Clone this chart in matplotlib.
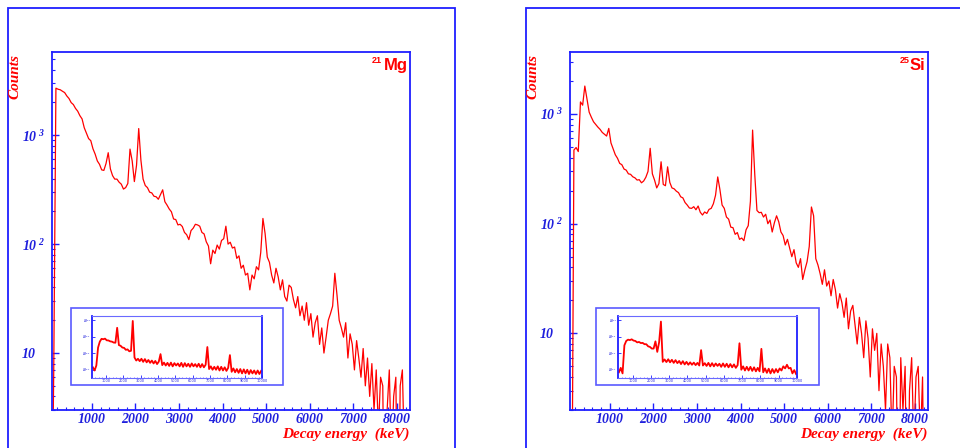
import numpy as np
import matplotlib.pyplot as plt
from matplotlib.patches import Rectangle
from matplotlib.ticker import MultipleLocator, LogLocator, NullFormatter
import matplotlib.transforms as mtrans

plt.rcParams['mathtext.fontset'] = 'custom'
plt.rcParams['mathtext.rm'] = 'Liberation Serif:bold:italic'
plt.rcParams['mathtext.it'] = 'Liberation Serif:bold:italic'
plt.rcParams['mathtext.bf'] = 'Liberation Serif:bold:italic'

# main spectra, 50 keV bins from 50 to 8250 keV
edges = np.arange(50, 8300, 50)

mg21 = [0, 7, 2700, 2640, 2610, 2530, 2460, 2290, 2170, 1990,
        1910, 1760, 1660, 1510, 1410, 1170, 1040, 930, 890, 750,
        670, 580, 540, 480, 475, 550, 690, 490, 425, 395,
        395, 370, 355, 320, 330, 360, 745, 580, 375, 530,
        1150, 590, 395, 345, 330, 300, 295, 275, 272, 258,
        285, 315, 245, 228, 210, 198, 170, 168, 150, 152,
        145, 128, 122, 110, 133, 140, 152, 150, 146, 128,
        124, 105, 96, 66, 88, 82, 98, 90, 108, 112,
        146, 100, 104, 92, 94, 74, 78, 60, 64, 52,
        54, 38, 52, 48, 62, 58, 84, 172, 125, 76,
        68, 52, 44, 60, 50, 38, 47, 33, 30, 42,
        40, 31, 26, 33, 22, 27, 20, 29, 18, 23,
        14, 19, 22, 12, 17, 10, 14, 20, 23, 27,
        54, 34, 20, 17, 14, 19, 9, 15, 12, 7,
        13, 9, 6, 11, 5, 9, 4, 8, 3, 7,
        2, 6, 5, 0, 3, 7, 1, 4, 6, 0,
        5, 7, 1, 0]

si25 = [0, 0, 470, 495, 455, 1290, 1205, 1800, 1370, 1040,
        935, 850, 805, 760, 725, 680, 655, 630, 740, 545,
        480, 425, 395, 355, 345, 315, 308, 285, 282, 268,
        262, 250, 252, 236, 245, 265, 300, 487, 285, 250,
        212, 232, 367, 228, 222, 330, 238, 212, 208, 198,
        192, 176, 172, 156, 148, 139, 138, 143, 134, 145,
        127, 120, 128, 124, 135, 138, 152, 182, 267, 205,
        148, 138, 115, 110, 93, 92, 80, 83, 72, 74,
        70, 88, 96, 160, 714, 280, 132, 126, 127, 115,
        122, 100, 108, 84, 102, 118, 104, 84, 78, 64,
        72, 60, 50, 58, 44, 40, 48, 31, 38, 45,
        62, 142, 118, 48, 42, 35, 28, 38, 27, 30,
        22, 31, 25, 17, 23, 19, 14, 21, 11, 16,
        18, 12, 8, 14, 10, 6, 13, 9, 4, 11,
        7, 10, 3, 8, 5, 2, 8, 6, 1, 5,
        4, 0, 6, 2, 5, 0, 3, 6, 1, 4,
        5, 1, 4, 0]

# inset spectra, 100 keV bins from 200 to 10000 (units of 1e-4)
inset_edges = np.arange(200, 10100, 100)

mg21_inset = [1.4, 0.9, 1.8, 22, 50, 74, 70, 76, 60, 59,
              52, 50, 44, 43, 345, 31, 28, 22, 21, 16,
              17, 13, 14, 890, 5.5, 3.6, 4.6, 3.3, 4.6, 3.0,
              4.4, 2.8, 3.9, 2.6, 3.6, 2.4, 3.4, 2.2, 3.1, 8.8,
              1.9, 2.7, 1.8, 2.6, 1.7, 2.7, 1.6, 2.5, 1.8, 2.4,
              1.6, 2.6, 1.5, 2.5, 1.6, 2.3, 1.5, 2.4, 1.6, 2.2,
              1.5, 2.3, 1.4, 2.2, 1.4, 2.0, 23.7, 1.1, 1.6, 1.0,
              1.5, 1.0, 1.6, 0.9, 1.5, 0.9, 1.4, 0.85, 1.3, 7.7,
              0.75, 1.2, 0.7, 1.1, 0.65, 1.1, 0.6, 1.05, 0.6, 1.0,
              0.55, 0.95, 0.6, 0.9, 0.55, 0.9, 0.55, 0.85]

si25_inset = [0.7, 1.3, 0.6, 30, 55, 66, 62, 69, 58, 55,
              45, 48, 41, 42, 35, 35, 26, 24, 19, 19,
              52, 12, 45, 816, 3.0, 4.2, 2.9, 4.3, 2.8, 4.0,
              2.6, 3.8, 2.5, 3.4, 2.2, 3.3, 2.1, 3.0, 2.0, 2.8,
              2.0, 2.7, 1.9, 2.6, 1.8, 15.4, 1.8, 2.5, 1.7, 2.6,
              1.6, 2.5, 1.6, 2.4, 1.7, 2.3, 1.5, 2.4, 1.5, 2.3,
              1.4, 2.2, 1.4, 2.1, 1.3, 1.9, 40, 1.0, 1.6, 0.9,
              1.5, 0.9, 1.5, 0.85, 1.4, 0.8, 1.3, 0.8, 18.4, 0.7,
              1.2, 0.65, 1.15, 0.6, 1.1, 0.65, 1.1, 0.7, 1.2, 0.9,
              1.6, 1.2, 2.0, 1.2, 1.3, 0.6, 0.95, 0.55]

x_ticks = [1000, 2000, 3000, 4000, 5000, 6000, 7000, 8000]
inset_xticks = [1000, 2000, 3000, 4000, 5000, 6000, 7000, 8000, 9000, 10000]
inset_yticks = [1, 10, 100, 1000]
inset_ylabels = ['$10^{-4}$', '$10^{-3}$', '$10^{-2}$', '$10^{-1}$']

W, H = 960, 448
BLUE = '#1f1fff'
TXT_BLUE = '#2020dd'
RED = '#ff0000'
serif = dict(family='Liberation Serif', style='italic', weight='bold')


def fr(x0, y0, x1, y1):
    return [x0 / W, 1 - y1 / H, (x1 - x0) / W, (y1 - y0) / H]


fig = plt.figure(figsize=(9.6, 4.48), dpi=100)


def panel(off, counts, ylim, mass, el, el_right, mass_right, inset, ibox, pbox):
    # outer pad frame
    fig.add_artist(Rectangle(((8 + off) / W, -0.1), 447 / W, 1.1 - 8 / H, fill=False,
                             edgecolor=BLUE, lw=1.3, transform=fig.transFigure))
    ax = fig.add_axes(fr(52 + off, 52, 410 + off, 410))
    vals = np.asarray(counts, float)
    centers = 0.5 * (edges[:-1] + edges[1:])
    ax.plot(centers, np.where(vals > 0, vals, 0.1), color=RED, lw=0.9)
    ax.set_yscale('log')
    ax.set_xlim(85, 8300)
    ax.set_ylim(*ylim)
    for s in ax.spines.values():
        s.set_color(BLUE)
        s.set_linewidth(1.3)
    ax.set_xticks(x_ticks, labels=[str(v) for v in x_ticks], fontsize=10, color=TXT_BLUE, **serif)
    ax.xaxis.set_minor_locator(MultipleLocator(200))
    ax.set_yticks([10, 100, 1000], labels=['', '', ''])
    ax.yaxis.set_minor_locator(LogLocator(subs=range(2, 10)))
    ax.yaxis.set_minor_formatter(NullFormatter())
    ax.tick_params(which='both', direction='in', color=BLUE, top=False, right=False)
    ax.tick_params(which='major', length=5, width=1, pad=2)
    ax.tick_params(which='minor', length=2.5, width=0.8)
    tr = mtrans.blended_transform_factory(ax.transAxes, ax.transData)
    for d in (1, 2, 3):
        if d == 1:
            s, xr = '10', -16
        else:
            s, xr = r'$10^{\;%d}$' % d, -7
        ax.text(xr / 358, 10 ** d, s, transform=tr, ha='right', va='center_baseline',
                fontsize=10, color=TXT_BLUE, **serif)

    fig.text((15 + off) / W, 1 - 54 / H, 'Counts', rotation=90, ha='center', va='top',
             color=RED, fontsize=11, **serif)
    fig.text((410 + off) / W, 1 - 434 / H, 'Decay energy  (keV)', ha='right', va='center',
             color=RED, fontsize=11, **serif)
    fig.text(el_right / W, 1 - 70 / H, el, ha='right', va='baseline', fontsize=12,
             family='Liberation Sans', weight='bold', color=RED)
    fig.text(mass_right / W, 1 - 63 / H, mass, ha='right', va='baseline', fontsize=6.5,
             family='Liberation Sans', weight='bold', color=RED)

    # inset
    pad = Rectangle((pbox[0] / W, 1 - pbox[3] / H), (pbox[2] - pbox[0]) / W,
                    (pbox[3] - pbox[1]) / H, facecolor='white', edgecolor='#5a5aff',
                    lw=1.2, transform=fig.transFigure, zorder=1)
    fig.add_artist(pad)
    iax = fig.add_axes(fr(*ibox))
    iax.set_zorder(2)
    icenters = 0.5 * (inset_edges[:-1] + inset_edges[1:])
    iax.plot(icenters, inset, color=RED, lw=1.3)
    iax.set_yscale('log')
    iax.set_xlim(200, 10000)
    iax.set_ylim(10 ** -0.5, 10 ** 3.25)
    for k, s in iax.spines.items():
        s.set_color(BLUE if k in ('left', 'right') else '#6a6aff')
        s.set_linewidth(1.3 if k in ('left', 'right') else 0.8)
    iax.set_xticks(inset_xticks, labels=[str(v) for v in inset_xticks], fontsize=2.5,
                   color=TXT_BLUE)
    iax.xaxis.set_minor_locator(MultipleLocator(200))
    iax.set_yticks(inset_yticks, labels=inset_ylabels, fontsize=2.5, color=TXT_BLUE)
    iax.yaxis.set_minor_locator(LogLocator(subs=range(2, 10)))
    iax.yaxis.set_minor_formatter(NullFormatter())
    iax.tick_params(which='both', direction='in', color=BLUE, top=False, right=False, pad=1)
    iax.tick_params(which='major', length=2, width=0.6)
    iax.tick_params(which='minor', length=1, width=0.4)


panel(0, mg21, (3.0, 5800), '21', 'Mg', 408, 382, mg21_inset,
      (92, 316, 262, 378), (71, 308, 283, 385))
panel(518, si25, (2.0, 3680), '25', 'Si', 925, 910, si25_inset,
      (618, 316, 797, 378), (596, 308, 819, 385))

fig.savefig('out.png', dpi=100)
